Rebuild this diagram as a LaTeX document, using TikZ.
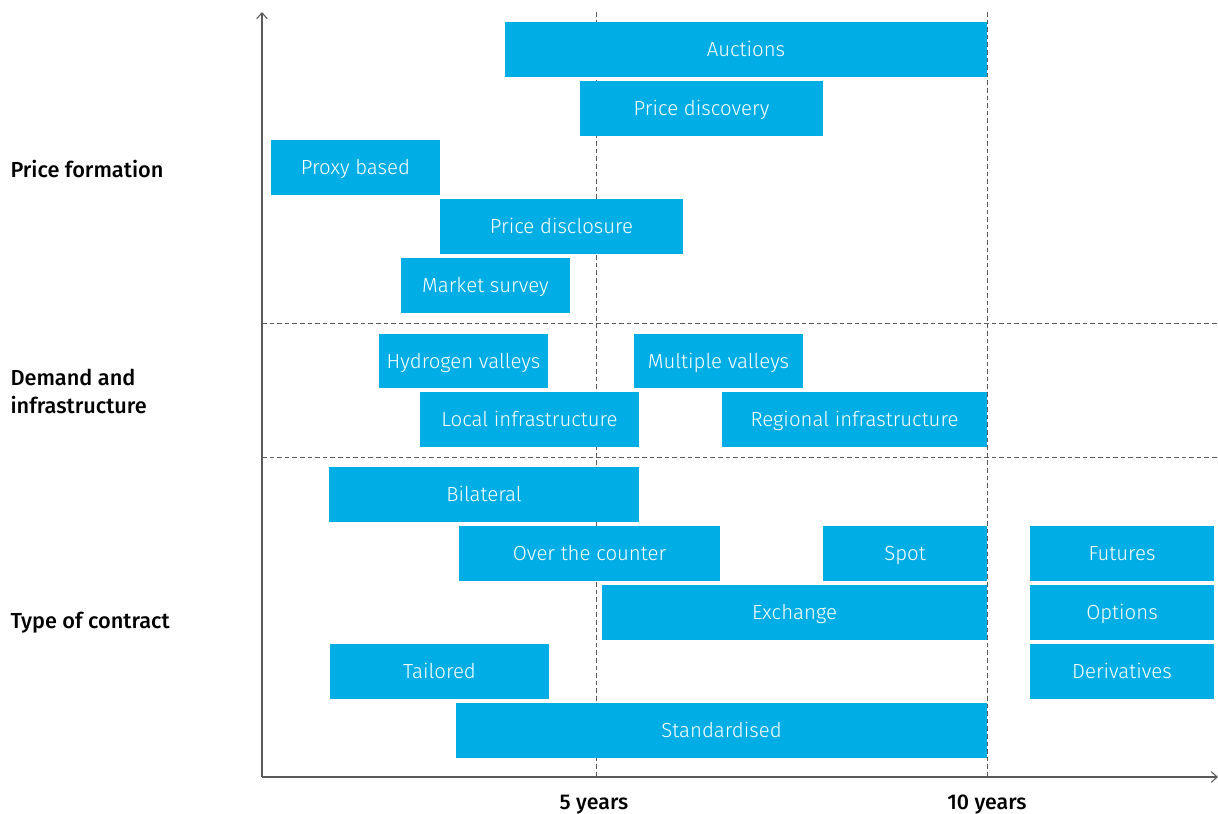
\documentclass[tikz,border=0pt]{standalone}
\usepackage{fontspec}
\setmainfont{Fira Sans}
\newfontfamily\barfont{Fira Sans Light}
\newfontfamily\labfont{Fira Sans Medium}
\usetikzlibrary{arrows.meta}

\definecolor{barblue}{RGB}{0,174,229}
\definecolor{axisgrey}{RGB}{90,90,90}

\tikzset{every picture/.style={line width=0.75pt}}
\tikzset{
  grid line/.style={draw=axisgrey, line width=0.6pt, dash pattern=on 3.5pt off 2.2pt},
  axis line/.style={draw=axisgrey, line width=0.8pt, -{Straight Barb[length=4.5pt,width=8pt]}},
  bartext/.style={text=white, inner sep=0pt, text height=13pt, text depth=2.5pt, font=\barfont\fontsize{15.3}{18}\selectfont},
  rowlabel/.style={anchor=west, inner sep=0.75pt, align=left, font=\labfont\fontsize{16.3}{20.5}\selectfont},
  ticklabel/.style={inner sep=0.75pt, text height=11.5pt, text depth=3.5pt, font=\labfont\fontsize{16}{18}\selectfont},
}

% one bar: name, x1, y1, x2, y2, text
\newcommand{\ctbar}[6]{%
  \fill[barblue] (#2,#3) rectangle (#4,#5);
  \node[bartext] (#1) at ({(#2+#4)/2},{(#3+#5)/2}) {#6};
}

\begin{document}
\begin{tikzpicture}[x=0.75pt,y=0.75pt,yscale=-1,xscale=1]
\useasboundingbox (0,0) rectangle (1218,814);

% axes and helper points
\coordinate (o) at (262,777);
\coordinate (ytop) at (262,12);
\coordinate (xend) at (1218,777);
\coordinate (five top) at (596,12);
\coordinate (five bot) at (596,777);
\coordinate (ten top) at (987,12);
\coordinate (ten bot) at (987,777);
\coordinate (sepA l) at (262,323);
\coordinate (sepA r) at (1218,323);
\coordinate (sepB l) at (262,457);
\coordinate (sepB r) at (1218,457);

%Dashed grid
\draw[grid line] (five top) -- (five bot);
\draw[grid line] (ten top) -- (ten bot);
\draw[grid line] (sepA l) -- (sepA r);
\draw[grid line] (sepB l) -- (sepB r);

%Price formation
\ctbar{auctions}{505}{22}{987}{77}{Auctions}
\ctbar{discovery}{580}{81}{823}{136}{Price discovery}
\ctbar{proxy}{271}{140}{440}{195}{Proxy based}
\ctbar{disclosure}{440}{199}{683}{254}{Price disclosure}
\ctbar{survey}{401}{258}{570}{313}{Market survey}

%Demand and infrastructure
\ctbar{hvalleys}{379}{334}{548}{388}{Hydrogen valleys}
\ctbar{mvalleys}{634}{334}{803}{388}{Multiple valleys}
\ctbar{localinf}{420}{392}{639}{447}{Local infrastructure}
\ctbar{reginf}{722}{392}{987}{447}{Regional infrastructure}

%Type of contract
\ctbar{bilateral}{329}{467}{639}{522}{Bilateral}
\ctbar{otc}{459}{526}{720}{581}{Over the counter}
\ctbar{spot}{823}{526}{987}{581}{Spot}
\ctbar{futures}{1030}{526}{1214}{581}{Futures}
\ctbar{exchange}{602}{585}{987}{640}{Exchange}
\ctbar{options}{1030}{585}{1214}{640}{Options}
\ctbar{tailored}{330}{644}{549}{699}{Tailored}
\ctbar{derivatives}{1030}{644}{1214}{699}{Derivatives}
\ctbar{standard}{456}{703}{987}{758}{Standardised}

%Axes
\draw[axis line] (o) -- (ytop);
\draw[axis line] (o) -- (xend);

% Text Node
\node[rowlabel] (pricelab) at (9,169) {Price formation};
% Text Node
\node[rowlabel] (demandlab) at (9,391.5) {Demand and\\infrastructure};
% Text Node
\node[rowlabel] (typelab) at (9,623) {Type of contract};
% Text Node
\node[ticklabel] (fivelab) at (594,804) {5 years};
% Text Node
\node[ticklabel] (tenlab) at (987,804) {10 years};

\end{tikzpicture}
\end{document}
